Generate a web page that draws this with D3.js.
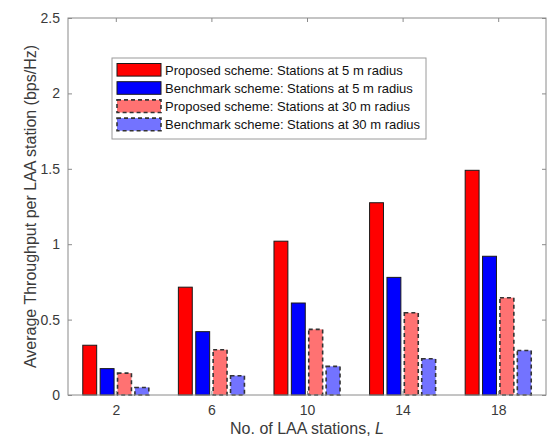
<!DOCTYPE html>
<html>
<head>
<meta charset="utf-8">
<script src="https://cdn.jsdelivr.net/npm/d3@7"></script>
<style>
  html, body { margin: 0; padding: 0; background: #fff; }
  svg { display: block; font-family: "Liberation Sans", Arial, sans-serif; }
</style>
</head>
<body>
<svg id="chart" width="550" height="442"></svg>
<script>
// Number of LAA stations per group
const stations = [2, 6, 10, 14, 18];

// Average throughput per LAA station (bps/Hz)
const proposed5m   = [0.33, 0.715, 1.02, 1.275, 1.49];
const benchmark5m  = [0.175, 0.42, 0.61, 0.78, 0.92];
const proposed30m  = [0.145, 0.30, 0.435, 0.545, 0.645];
const benchmark30m = [0.05, 0.128, 0.19, 0.24, 0.295];

const seriesNames = [
  "Proposed scheme: Stations at 5 m radius",
  "Benchmark scheme: Stations at 5 m radius",
  "Proposed scheme: Stations at 30 m radius",
  "Benchmark scheme: Stations at 30 m radius"
];
const yTicks = [0, 0.5, 1, 1.5, 2, 2.5];

const seriesValues = [proposed5m, benchmark5m, proposed30m, benchmark30m];
const styles = [
  { fill: "#ff0000", stroke: "#1a1a1a", dash: null, sw: 1 },
  { fill: "#0000ff", stroke: "#1a1a1a", dash: null, sw: 1 },
  { fill: "#ff7272", stroke: "#333333", dash: "4,3", sw: 1.6 },
  { fill: "#7373ff", stroke: "#333333", dash: "4,3", sw: 1.6 }
];

const svg = d3.select("#chart");
const m = { left: 68, right: 4, top: 18, bottom: 47 };
const W = 550, H = 442;
const x = d3.scaleLinear().domain([0, 20]).range([m.left, W - m.right]);
const y = d3.scaleLinear().domain([0, 2.5]).range([H - m.bottom, m.top]);

// Grouped bar geometry (4 series per group, 4 units between groups)
const groupSpacing = 4;
const groupWidth = groupSpacing * Math.min(0.8, 4 / (4 + 1.5));
const slot = groupWidth / 4;
const barW = slot * 0.8;

const axisColor = "#8a8a8a";
const textColor = "#3a3a3a";

// Bars
seriesValues.forEach((vals, si) => {
  const st = styles[si];
  svg.append("g").selectAll("rect")
    .data(vals.map((v, i) => ({ v, s: stations[i] })))
    .join("rect")
    .attr("x", d => x(d.s - groupWidth / 2 + slot * si + (slot - barW) / 2))
    .attr("width", d => x(barW) - x(0))
    .attr("y", d => y(d.v))
    .attr("height", d => y(0) - y(d.v))
    .attr("fill", st.fill)
    .attr("stroke", st.stroke)
    .attr("stroke-width", st.sw)
    .attr("stroke-dasharray", st.dash);
});

// Axes with inward ticks on all four sides
const tickLen = 4;
const xAxisB = d3.axisBottom(x).tickValues(stations).tickSizeInner(-tickLen).tickSizeOuter(0).tickPadding(10);
const xAxisT = d3.axisTop(x).tickValues(stations).tickSizeInner(-tickLen).tickSizeOuter(0).tickFormat("");
const yAxisL = d3.axisLeft(y).tickValues(yTicks).tickSizeInner(-tickLen).tickSizeOuter(0).tickPadding(8).tickFormat(d3.format("~g"));
const yAxisR = d3.axisRight(y).tickValues(yTicks).tickSizeInner(-tickLen).tickSizeOuter(0).tickFormat("");

function styleAxis(g) {
  g.select(".domain").remove();
  g.selectAll(".tick line").attr("stroke", axisColor);
  g.selectAll(".tick text").attr("fill", textColor).style("font-size", "14px");
}
svg.append("g").attr("transform", `translate(0,${y(0)})`).call(xAxisB).call(styleAxis);
svg.append("g").attr("transform", `translate(0,${y(2.5)})`).call(xAxisT).call(styleAxis);
svg.append("g").attr("transform", `translate(${x(0)},0)`).call(yAxisL).call(styleAxis);
svg.append("g").attr("transform", `translate(${x(20)},0)`).call(yAxisR).call(styleAxis);

// Plot box
svg.append("rect")
  .attr("x", x(0)).attr("y", y(2.5))
  .attr("width", x(20) - x(0)).attr("height", y(0) - y(2.5))
  .attr("fill", "none").attr("stroke", axisColor).attr("stroke-width", 1);

// Axis titles
const xt = svg.append("text")
  .attr("x", (x(0) + x(20)) / 2).attr("y", 434)
  .attr("text-anchor", "middle").attr("fill", textColor)
  .style("font-size", "16px");
xt.append("tspan").text("No. of LAA stations,  ");
xt.append("tspan").attr("font-style", "italic").text("L");

svg.append("text")
  .attr("transform", `translate(36,${(y(0) + y(2.5)) / 2}) rotate(-90)`)
  .attr("text-anchor", "middle").attr("fill", textColor)
  .style("font-size", "16px")
  .text("Average Throughput per LAA station (bps/Hz)");

// Legend
const lg = svg.append("g").attr("transform", "translate(112,58)");
lg.append("rect").attr("width", 314).attr("height", 81)
  .attr("fill", "#fff").attr("stroke", "#9a9a9a").attr("stroke-width", 1);
seriesNames.forEach((name, i) => {
  const st = styles[i];
  const cy = 11.8 + i * 18.2;
  lg.append("rect")
    .attr("x", 5).attr("y", cy - 6.3).attr("width", 44).attr("height", 12.6)
    .attr("fill", st.fill).attr("stroke", st.stroke)
    .attr("stroke-width", st.sw).attr("stroke-dasharray", st.dash);
  lg.append("text")
    .attr("x", 53).attr("y", cy + 4.7)
    .attr("fill", "#111").style("font-size", "13px")
    .text(name);
});
</script>
</body>
</html>
